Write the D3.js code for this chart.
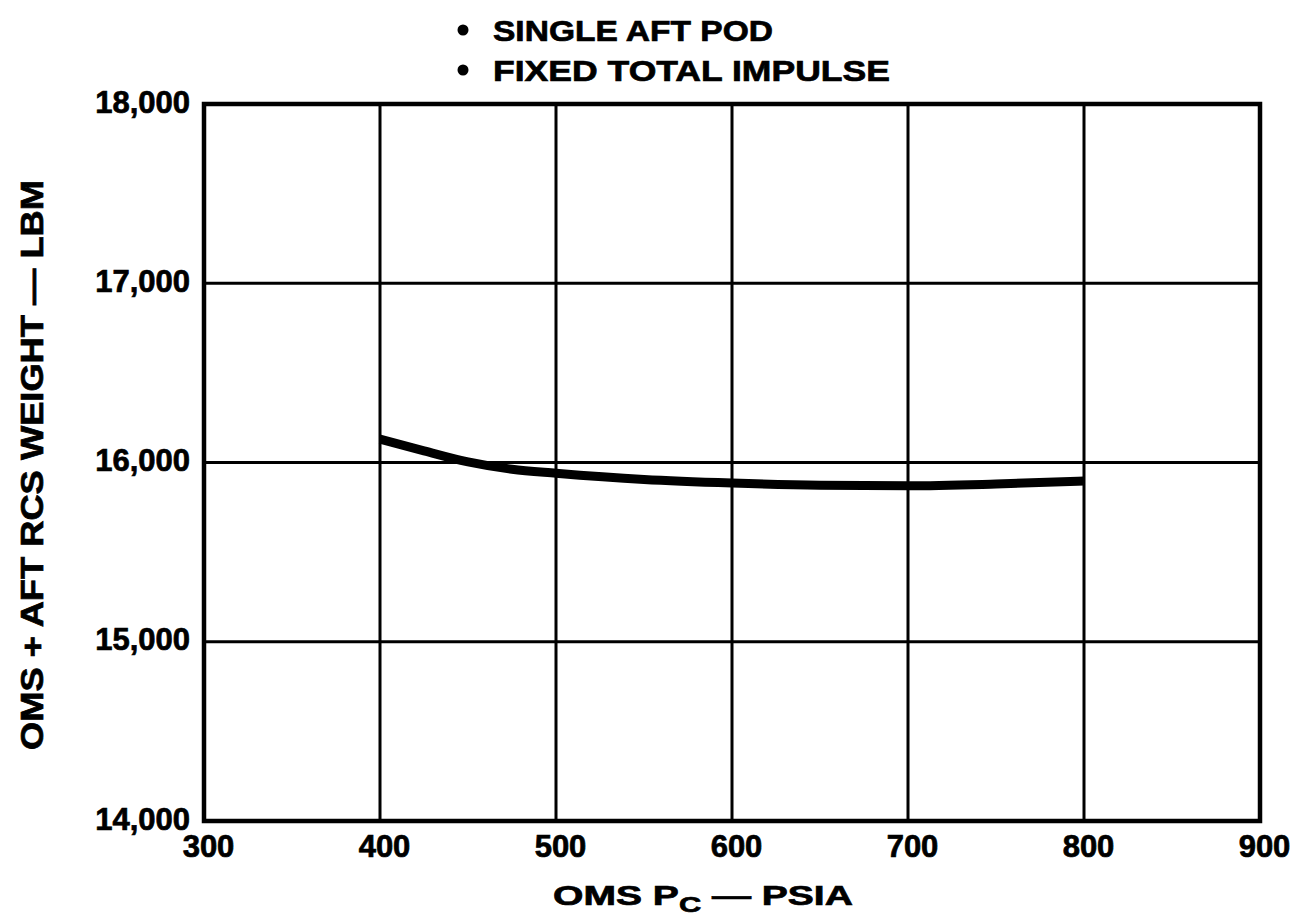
<!DOCTYPE html>
<html><head><meta charset="utf-8">
<script src="https://cdn.jsdelivr.net/npm/d3@7"></script>
<style>body{margin:0;background:#fff;} text{font-family:"Liberation Sans",Arial,sans-serif;font-weight:bold;fill:#000;stroke:#000;stroke-width:0.7px;}</style>
</head><body>
<svg id="c" width="1291" height="923"></svg>
<script>
const xTicks = [300,400,500,600,700,800,900];
const yTicks = [14000,15000,16000,17000,18000];
const pc = [400,425,450,475,500,550,600,650,700,750,800];
const weight = [16130,16065,16003,15962,15940,15905,15885,15873,15870,15880,15897];
const legendItems = ["SINGLE AFT POD","FIXED TOTAL IMPULSE"];

const svg = d3.select("#c");
const m = {l:204,r:1260,t:104,b:821};
const x = d3.scaleLinear().domain([300,900]).range([m.l,m.r]);
const y = d3.scaleLinear().domain([14000,18000]).range([m.b,m.t]);

// grid
svg.append("g").selectAll("line").data(xTicks.slice(1,-1)).join("line")
  .attr("x1",d=>x(d)).attr("x2",d=>x(d)).attr("y1",m.t).attr("y2",m.b)
  .attr("stroke","#000").attr("stroke-width",3);
svg.append("g").selectAll("line").data(yTicks.slice(1,-1)).join("line")
  .attr("x1",m.l).attr("x2",m.r).attr("y1",d=>y(d)).attr("y2",d=>y(d))
  .attr("stroke","#000").attr("stroke-width",3);
svg.append("rect").attr("x",m.l).attr("y",m.t).attr("width",m.r-m.l).attr("height",m.b-m.t)
  .attr("fill","none").attr("stroke","#000").attr("stroke-width",4.5);

// axes
const xa = svg.append("g").attr("transform",`translate(4,${m.b})`)
  .call(d3.axisBottom(x).tickValues(xTicks).tickSize(0).tickPadding(0).tickFormat(d3.format("d")));
xa.select(".domain").remove();
xa.selectAll("text").attr("font-size",31).attr("font-family","Liberation Sans").attr("font-weight","bold")
  .attr("y",36).attr("dy",0);
const ya = svg.append("g").attr("transform",`translate(${m.l},0)`)
  .call(d3.axisLeft(y).tickValues(yTicks).tickSize(0).tickPadding(14).tickFormat(d3.format(",")));
ya.select(".domain").remove();
ya.selectAll("text").attr("font-size",31).attr("font-family","Liberation Sans").attr("font-weight","bold")
  .attr("dy",8);

// curve
const line = d3.line().x((d,i)=>x(pc[i])).y(d=>y(d)).curve(d3.curveMonotoneX);
svg.append("path").datum(weight).attr("d",line).attr("fill","none")
  .attr("stroke","#000").attr("stroke-width",9);

// legend
const legendWidths = [280,397];
const lg = svg.append("g");
legendItems.forEach((t,i)=>{
  const base = 41 + i*40;
  lg.append("circle").attr("cx",463).attr("cy",base-11).attr("r",5.5);
  lg.append("text").attr("x",493).attr("y",base).attr("font-size",30)
    .attr("textLength",legendWidths[i]).attr("lengthAdjust","spacingAndGlyphs").text(t);
});

// x title
const xt = svg.append("text").attr("x",703).attr("y",905).attr("text-anchor","middle").attr("font-size",28);
xt.append("tspan").text("OMS P");
xt.append("tspan").attr("font-size",22).attr("dy",7).text("C");
xt.append("tspan").attr("dy",-7).text(" \u2014 PSIA");
const bb = xt.node().getBBox();
const s = 300/bb.width, cx = bb.x + bb.width/2;
xt.attr("transform",`translate(${703},0) scale(${s},1) translate(${-cx},0)`);

// y title
svg.append("text").attr("transform",`translate(43,465) rotate(-90)`).attr("text-anchor","middle")
  .attr("font-size",31).attr("textLength",570).attr("lengthAdjust","spacingAndGlyphs")
  .text("OMS + AFT RCS WEIGHT \u2014 LBM");
</script>
</body></html>
